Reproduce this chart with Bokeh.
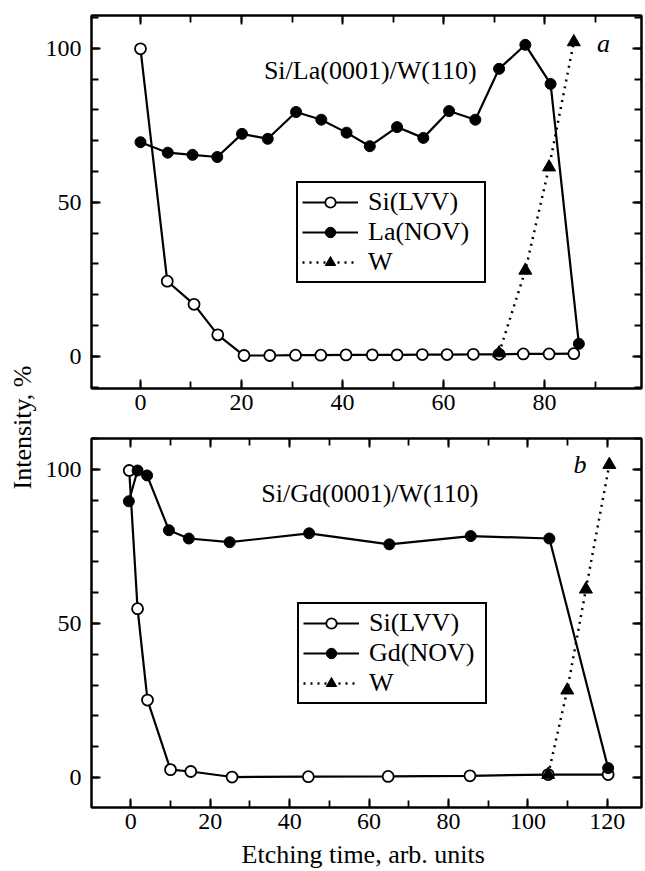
import math
from bokeh.plotting import figure
from bokeh.layouts import row, column
from bokeh.models import (Range1d, LinearAxis, SingleIntervalTicker,
                          CustomJSTickFormatter, Label)
from bokeh.embed import file_html
from bokeh.resources import INLINE

# ---------------- data ----------------
# panel a : Si/La(0001)/W(110)
si_a_x = [0, 5.3, 10.6, 15.3, 20.5, 25.6, 30.7, 35.7, 40.7, 45.9, 50.8, 55.8, 60.7, 65.9, 71.0, 75.8, 80.9, 85.8]
si_a_y = [99.8, 24.4, 16.9, 7.0, 0.3, 0.3, 0.4, 0.4, 0.5, 0.5, 0.5, 0.6, 0.6, 0.7, 0.7, 0.8, 0.8, 0.9]
la_a_x = [0, 5.4, 10.3, 15.2, 20.1, 25.2, 30.8, 35.8, 40.8, 45.4, 50.8, 56.0, 61.1, 66.3, 71.0, 76.2, 81.2, 86.8]
la_a_y = [69.5, 66.1, 65.4, 64.7, 72.2, 70.6, 79.3, 76.8, 72.6, 68.2, 74.4, 70.9, 79.6, 76.8, 93.3, 101.1, 88.4, 4.1]
w_a_x = [71.0, 76.2, 80.9, 85.8]
w_a_y = [1.1, 27.9, 61.4, 102.0]

# panel b : Si/Gd(0001)/W(110)
si_b_x = [-0.4, 1.7, 4.2, 10.0, 15.1, 25.5, 44.7, 64.8, 85.4, 105.1, 120.2]
si_b_y = [99.7, 54.8, 25.1, 2.5, 1.9, 0.1, 0.2, 0.3, 0.5, 0.9, 0.9]
gd_b_x = [-0.5, 1.7, 4.1, 9.6, 14.6, 24.9, 44.9, 65.1, 85.6, 105.4, 120.2]
gd_b_y = [89.7, 99.7, 98.1, 80.3, 77.6, 76.4, 79.3, 75.7, 78.4, 77.6, 3.0]
w_b_x = [105.1, 109.9, 114.6, 120.5]
w_b_y = [0.9, 28.3, 61.1, 101.6]

labels_a = ["Si(LVV)", "La(NOV)", "W"]
labels_b = ["Si(LVV)", "Gd(NOV)", "W"]
title_a = "Si/La(0001)/W(110)"
title_b = "Si/Gd(0001)/W(110)"
x_label = "Etching time,  arb. units"
y_label = "Intensity, %"

FONT = "Liberation Serif"
TICK_FS = "24px"
TEXT_FS = "26px"


def style_axis(ax, show_labels):
    ax.axis_line_width = 2
    ax.axis_line_color = "black"
    ax.major_tick_in = 9
    ax.major_tick_out = 0
    ax.minor_tick_in = 7
    ax.minor_tick_out = 0
    ax.major_tick_line_width = 1.8
    ax.minor_tick_line_width = 1.8
    ax.major_tick_line_color = "black"
    ax.minor_tick_line_color = "black"
    ax.major_label_text_font = FONT
    ax.major_label_text_font_size = TICK_FS
    ax.major_label_text_color = "black"
    if not show_labels:
        ax.formatter = CustomJSTickFormatter(code="return ''")
        ax.major_label_standoff = 0


def make_panel(width, height, xr, yr, borders, xs, ys, labels, title,
               tx, ty, letter, lx, ly, leg_loc, xlab=None):
    p = figure(width=width, height=height, x_range=Range1d(*xr), y_range=Range1d(*yr),
               toolbar_location=None, output_backend="svg",
               min_border_left=borders[0], min_border_right=borders[1],
               min_border_top=borders[2], min_border_bottom=borders[3])
    p.xgrid.visible = False
    p.ygrid.visible = False
    p.outline_line_color = "black"
    p.outline_line_width = 2
    p.background_fill_color = "white"
    p.border_fill_color = "white"

    bottom = p.xaxis[0]
    left = p.yaxis[0]
    bottom.ticker = SingleIntervalTicker(interval=20, num_minor_ticks=2)
    left.ticker = SingleIntervalTicker(interval=50, num_minor_ticks=5)
    style_axis(bottom, True)
    style_axis(left, True)
    bottom.major_label_standoff = 6
    left.major_label_standoff = 10
    if xlab:
        bottom.axis_label = xlab
        bottom.axis_label_text_font = FONT
        bottom.axis_label_text_font_size = TEXT_FS
        bottom.axis_label_text_font_style = "normal"
        bottom.axis_label_text_color = "black"
        bottom.axis_label_standoff = 8
    top = LinearAxis(ticker=SingleIntervalTicker(interval=20, num_minor_ticks=2))
    right = LinearAxis(ticker=SingleIntervalTicker(interval=50, num_minor_ticks=5))
    style_axis(top, False)
    style_axis(right, False)
    p.add_layout(top, "above")
    p.add_layout(right, "right")

    (sx, sy), (mx, my), (wx, wy) = list(zip(xs, ys))
    # Si (open circles)
    p.line(sx, sy, line_color="black", line_width=2.2, legend_label=labels[0])
    p.scatter(sx, sy, marker="circle", size=11, fill_color="white",
              line_color="black", line_width=1.8, legend_label=labels[0])
    # La / Gd (filled circles)
    p.line(mx, my, line_color="black", line_width=2.2, legend_label=labels[1])
    p.scatter(mx, my, marker="circle", size=11, fill_color="black",
              line_color="black", legend_label=labels[1])
    # W (dotted, triangles)
    p.line(wx, wy, line_color="black", line_width=2.5, line_dash="2 5",
           legend_label=labels[2])
    p.scatter(wx, wy, marker="triangle", size=13, fill_color="black",
              line_color="black", legend_label=labels[2])

    p.add_layout(Label(x=tx, y=ty, text=title, text_font=FONT, text_font_size=TEXT_FS,
                       text_align="center", text_baseline="middle", text_color="black"))
    p.add_layout(Label(x=lx, y=ly, text=letter, text_font=FONT, text_font_size=TEXT_FS,
                       text_font_style="italic", text_align="center",
                       text_baseline="middle", text_color="black"))

    lg = p.legend[0]
    lg.location = leg_loc
    lg.border_line_color = "black"
    lg.border_line_width = 2
    lg.border_line_alpha = 1
    lg.background_fill_color = "white"
    lg.background_fill_alpha = 1
    lg.label_text_font = FONT
    lg.label_text_font_size = TEXT_FS
    lg.label_text_color = "black"
    lg.padding = 4
    lg.spacing = 0
    lg.glyph_height = 26
    lg.label_height = 26
    lg.glyph_width = 56
    lg.label_standoff = 10
    lg.label_width = 112
    lg.margin = 0
    return p


pa = make_panel(605, 430, (-9.7, 99.2), (-10.4, 110.6), (51, 4, 15, 42),
                [si_a_x, la_a_x, w_a_x], [si_a_y, la_a_y, w_a_y], labels_a, title_a,
                45.5, 92.8, "a", 91.7, 101.5, (205, 105))
pb = make_panel(605, 441, (-9.9, 128.6), (-9.8, 110.1), (51, 3, 8, 64),
                [si_b_x, gd_b_x, w_b_x], [si_b_y, gd_b_y, w_b_y], labels_b, title_b,
                60.2, 92.3, "b", 113.1, 101.7, (206, 103), xlab=x_label)

pl = figure(width=40, height=871, x_range=Range1d(0, 40), y_range=Range1d(0, 871),
            x_axis_type=None, y_axis_type=None, toolbar_location=None,
            output_backend="svg", min_border=0)
pl.outline_line_color = None
pl.add_layout(Label(x=22, y=871 - 427, text=y_label, text_font=FONT, text_font_size=TEXT_FS,
                    angle=math.pi / 2, text_align="center", text_baseline="middle",
                    text_color="black"))

layout = row(pl, column(pa, pb, spacing=0), spacing=0)
open("out.html", "w").write(file_html(layout, INLINE))
